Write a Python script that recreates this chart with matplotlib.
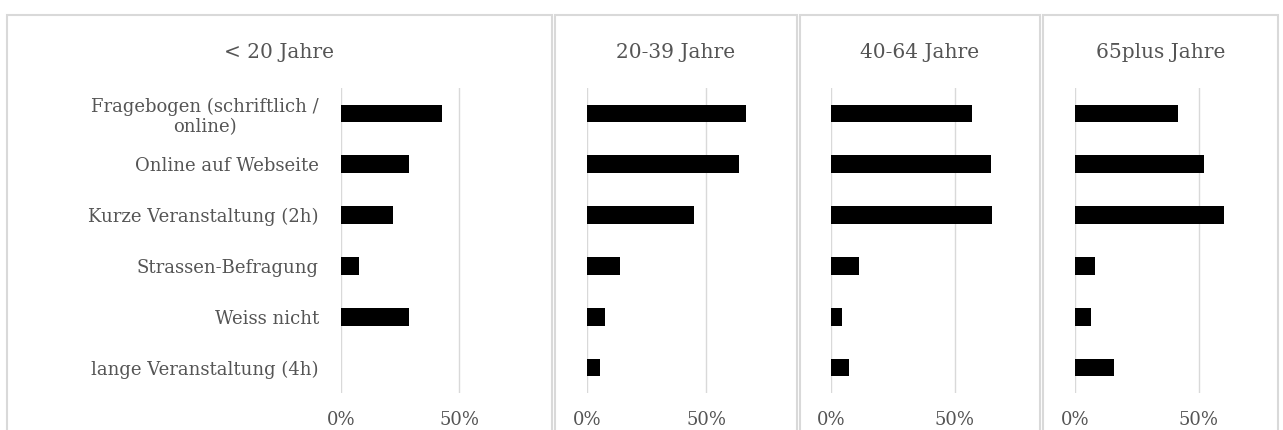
import matplotlib
matplotlib.use("Agg")
import matplotlib.pyplot as plt
from matplotlib.patches import Rectangle
from matplotlib.ticker import PercentFormatter

plt.rcParams['font.family'] = ['DejaVu Serif']

## Data
categories = ['Fragebogen (schriftlich /\nonline)', 'Online auf Webseite',
              'Kurze Veranstaltung (2h)', 'Strassen-Befragung',
              'Weiss nicht', 'lange Veranstaltung (4h)']
groups = ['< 20 Jahre', '20-39 Jahre', '40-64 Jahre', '65plus Jahre']
val_u20 = [0.43, 0.29, 0.22, 0.076, 0.29, 0.0]
val_20_39 = [0.67, 0.64, 0.45, 0.14, 0.076, 0.055]
val_40_64 = [0.57, 0.645, 0.65, 0.113, 0.044, 0.073]
val_65plus = [0.415, 0.52, 0.60, 0.081, 0.065, 0.157]
values = [val_u20, val_20_39, val_40_64, val_65plus]

W, H = 1283, 430
fig = plt.figure(figsize=(W / 100, H / 100), dpi=100)

# panel frames (pixels: left, right) and axis zero/50% positions
frames = [(7, 552), (555, 797), (800, 1040), (1043, 1278)]
axes_px = [(341, 459), (587, 706), (831, 955), (1075, 1199)]
grey = '#555555'
line_col = '#d9d9d9'
top_px, bot_px = 88, 393
xmax = 0.8

for i in range(4):
    fl, fr = frames[i]
    fig.patches.append(Rectangle((fl / W, -0.2), (fr - fl) / W, 1.2 - 15 / H,
                                 transform=fig.transFigure, fill=False,
                                 edgecolor=line_col, lw=1.5))
    fig.text((fl + fr) / 2 / W, 1 - 52 / H, groups[i], ha='center', va='center',
             fontsize=14.5, color=grey)

    x0, x50 = axes_px[i]
    width_px = (x50 - x0) * 2 * xmax
    ax = fig.add_axes([x0 / W, 1 - bot_px / H, width_px / W, (bot_px - top_px) / H])
    ax.barh(range(len(categories)), values[i], height=0.35, color='black')
    ax.set_xlim(0, xmax)
    ax.set_ylim(len(categories) - 0.5, -0.5)
    ax.set_xticks([0, 0.5])
    ax.xaxis.set_major_formatter(PercentFormatter(1.0, decimals=0))
    ax.grid(axis='x', color=line_col, lw=1)
    ax.set_axisbelow(True)
    for s in ax.spines.values():
        s.set_visible(False)
    ax.tick_params(length=0, labelsize=13, colors=grey)
    ax.tick_params(axis='x', pad=13)
    ax.set_yticks(range(len(categories)))
    if i == 0:
        ax.set_yticklabels(categories, multialignment='center')
        ax.tick_params(axis='y', pad=16)
    else:
        ax.set_yticklabels([])

plt.savefig('out.png', dpi=100)
